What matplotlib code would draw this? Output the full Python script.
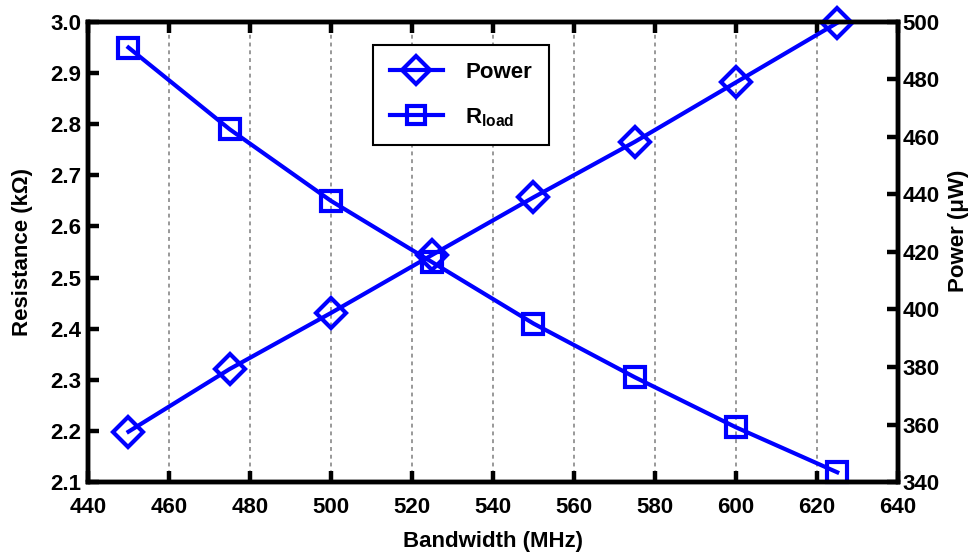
import matplotlib
matplotlib.use("Agg")
from matplotlib import pyplot as plt

plt.rcParams['font.family'] = ['Liberation Sans', 'DejaVu Sans']
plt.rcParams['font.weight'] = 'bold'
plt.rcParams['mathtext.fontset'] = 'custom'
plt.rcParams['mathtext.rm'] = 'Liberation Sans:bold'
plt.rcParams['mathtext.bf'] = 'Liberation Sans:bold'

# Data
bandwidth = [450, 475, 500, 525, 550, 575, 600, 625]
r_load = [2.95, 2.79, 2.65, 2.53, 2.41, 2.305, 2.207, 2.119]      # kOhm
power = [357.5, 379.3, 398.8, 419.0, 439.0, 458.3, 479.0, 499.7]  # uW

x_ticks = [440, 460, 480, 500, 520, 540, 560, 580, 600, 620, 640]
r_ticks = [2.1, 2.2, 2.3, 2.4, 2.5, 2.6, 2.7, 2.8, 2.9, 3.0]
p_ticks = [340, 360, 380, 400, 420, 440, 460, 480, 500]

blue = '#0000ff'
fs = 16

fig = plt.figure(figsize=(9.71, 5.52), dpi=100)
ax = fig.add_axes([0.0906, 0.1268, 0.8342, 0.8334])
ax2 = ax.twinx()

l_p, = ax2.plot(bandwidth, power, color=blue, lw=3, marker='D', ms=15,
                mfc='none', mec=blue, mew=3, label='Power', clip_on=False)
l_r, = ax.plot(bandwidth, r_load, color=blue, lw=3, marker='s', ms=14,
               mfc='none', mec=blue, mew=3, label=r'R$_{\mathrm{load}}$', clip_on=False)

ax.set_xlim(440, 640)
ax.set_ylim(2.1, 3.0)
ax2.set_ylim(340, 500)
ax.set_xticks(x_ticks)
ax.set_yticks(r_ticks)
ax2.set_yticks(p_ticks)
ax.set_yticklabels([f"{v:.1f}" for v in r_ticks])

for xv in x_ticks[1:-1]:
    ax.axvline(xv, color='#999999', ls=(0, (2, 2)), lw=1.4, zorder=0)

for a in (ax, ax2):
    for s in a.spines.values():
        s.set_linewidth(3.2)
    a.tick_params(direction='in', length=8, width=3.2, labelsize=fs, pad=4)
ax.tick_params(axis='x', top=True, pad=11)
ax.tick_params(axis='y', pad=5)
ax2.tick_params(axis='y', pad=3)

ax.set_xlabel('Bandwidth (MHz)', fontsize=fs, fontweight='bold', labelpad=9)
ax.set_ylabel('Resistance (kΩ)', fontsize=fs, fontweight='bold', labelpad=12)
ax2.set_ylabel('Power (μW)', fontsize=fs, fontweight='bold')
ax2.yaxis.set_label_coords(1.062, 0.546)

leg = ax.legend([l_p, l_r], ['Power', r'R$_{\mathrm{load}}$'], loc='upper left',
                bbox_to_anchor=(0.352, 0.95), borderaxespad=0, fontsize=fs,
                handlelength=2.4, borderpad=0.75, labelspacing=1.05, handletextpad=1.0,
                fancybox=False, edgecolor='black', framealpha=1, markerscale=0.95)
leg.get_frame().set_linewidth(1.5)

fig.savefig('out.png', dpi=100)
